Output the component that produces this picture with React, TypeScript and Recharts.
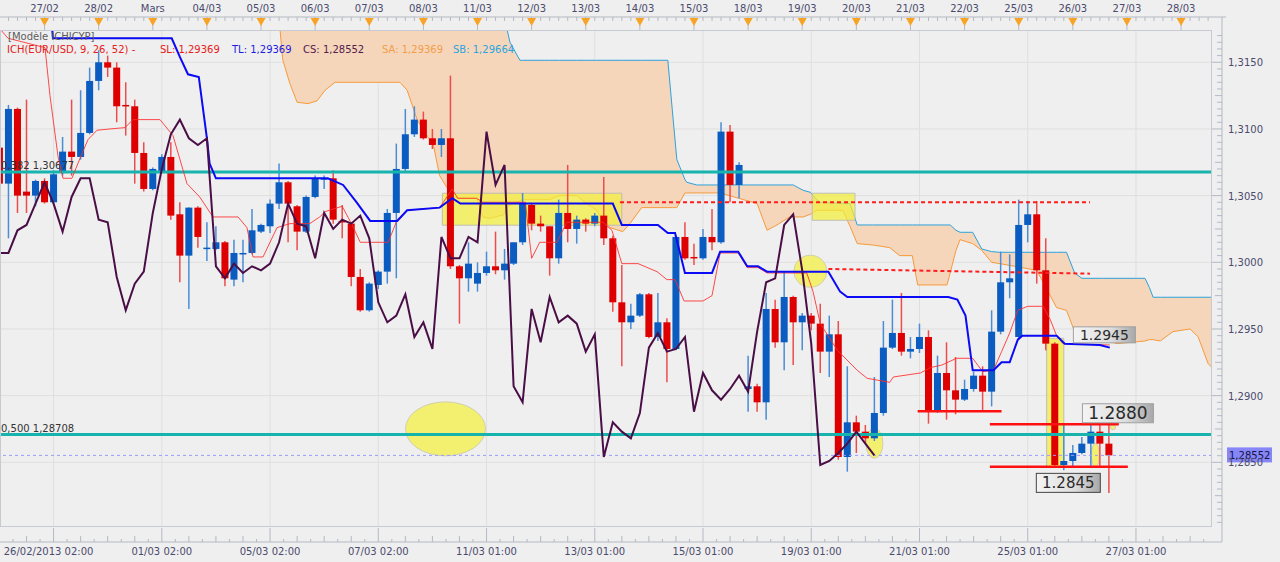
import React from 'react';
import {
  ComposedChart, XAxis, YAxis, Bar, Line, Area,
  ReferenceLine, ReferenceArea, ReferenceDot
} from 'recharts';

const FONT = '"DejaVu Sans", Verdana, sans-serif';
const AXIS_TEXT = '#4b4b6e';
const AXIS_LINE = '#b4b9c4';

// 4h candles, index k starts at -1 (first candle half cut at the left edge)
const FIRST_K = -1;
const opens = [
  1.3086, 1.3059, 1.3115, 1.3053, 1.3050, 1.3061, 1.3045, 1.3068, 1.3083, 1.3079,
  1.3097, 1.3136, 1.3150, 1.3146, 1.3118, 1.3117, 1.3082, 1.3055, 1.3068, 1.3079,
  1.3036, 1.3005, 1.3041, 1.3010, 1.3010, 1.3015, 1.2987, 1.3006, 1.3007, 1.3023,
  1.3027, 1.3044, 1.3060, 1.3042, 1.3023, 1.3049, 1.3062, 1.3063, 1.3031, 1.3029,
  1.2989, 1.2964, 1.2983, 1.2993, 1.3037, 1.3070, 1.3096, 1.3107, 1.3093, 1.3088,
  1.3093, 1.2997, 1.2988, 1.2984, 1.2992, 1.2997, 1.2994, 1.2999, 1.3015, 1.3043,
  1.3029, 1.3027, 1.3003, 1.3037, 1.3025, 1.3032, 1.3029, 1.3035, 1.3018, 1.2970,
  1.2955, 1.2960, 1.2976, 1.2944, 1.2955, 1.2935, 1.3019, 1.3004, 1.3003, 1.3019,
  1.3015, 1.3098, 1.3058, 1.2905, 1.2907, 1.2895, 1.2965, 1.2940, 1.2974, 1.2955,
  1.2960, 1.2954, 1.2933, 1.2946, 1.2854, 1.2880, 1.2873, 1.2868, 1.2887, 1.2936,
  1.2947, 1.2933, 1.2935, 1.2944, 1.2888, 1.2917, 1.2904, 1.2897, 1.2905, 1.2915,
  1.2903, 1.2948, 1.2985, 1.2944, 1.3028, 1.3036, 1.2994, 1.2939, 1.2848, 1.2851,
  1.2857, 1.2864, 1.2873, 1.2864,
];
const highs = [
  1.3090, 1.3118, 1.3116, 1.3122, 1.3062, 1.3063, 1.3069, 1.3094, 1.3122, 1.3129,
  1.3146, 1.3159, 1.3155, 1.3150, 1.3135, 1.3122, 1.3090, 1.3071, 1.3081, 1.3090,
  1.3045, 1.3041, 1.3042, 1.3030, 1.3027, 1.3016, 1.3017, 1.3017, 1.3040, 1.3029,
  1.3047, 1.3074, 1.3061, 1.3043, 1.3050, 1.3065, 1.3065, 1.3069, 1.3043, 1.3030,
  1.2995, 1.2985, 1.2994, 1.3040, 1.3089, 1.3115, 1.3117, 1.3113, 1.3100, 1.3100,
  1.3140, 1.2998, 1.3015, 1.3000, 1.3008, 1.3023, 1.3010, 1.3015, 1.3052, 1.3044,
  1.3035, 1.3027, 1.3047, 1.3073, 1.3035, 1.3033, 1.3037, 1.3064, 1.3020, 1.2998,
  1.2969, 1.2977, 1.2977, 1.2977, 1.2958, 1.3020, 1.3030, 1.3014, 1.3025, 1.3040,
  1.3105, 1.3103, 1.3075, 1.2930, 1.2909, 1.2977, 1.2972, 1.2993, 1.2975, 1.2962,
  1.2962, 1.2969, 1.2960, 1.2956, 1.2922, 1.2885, 1.2878, 1.2914, 1.2956, 1.2972,
  1.2977, 1.2944, 1.2954, 1.2949, 1.2930, 1.2940, 1.2929, 1.2912, 1.2918, 1.2922,
  1.2964, 1.3008, 1.3006, 1.3047, 1.3046, 1.3046, 1.3018, 1.2940, 1.2878, 1.2863,
  1.2869, 1.2878, 1.2878, 1.2878,
];
const lows = [
  1.3055, 1.3018, 1.3037, 1.3037, 1.3042, 1.3044, 1.3044, 1.3065, 1.3065, 1.3077,
  1.3096, 1.3129, 1.3139, 1.3105, 1.3095, 1.3059, 1.3053, 1.3054, 1.3067, 1.3032,
  1.2985, 1.2965, 1.3011, 1.3001, 1.3009, 1.2982, 1.2982, 1.2985, 1.3006, 1.3022,
  1.3022, 1.3040, 1.3015, 1.3009, 1.3022, 1.3048, 1.3055, 1.3029, 1.3018, 1.2982,
  1.2963, 1.2963, 1.2980, 1.2984, 1.2988, 1.3068, 1.3094, 1.3092, 1.3085, 1.3079,
  1.2995, 1.2954, 1.2978, 1.2978, 1.2990, 1.2991, 1.2987, 1.2998, 1.3013, 1.3024,
  1.3023, 1.2990, 1.2999, 1.3015, 1.3014, 1.3023, 1.3027, 1.3013, 1.2963, 1.2922,
  1.2950, 1.2959, 1.2943, 1.2941, 1.2910, 1.2934, 1.3002, 1.2998, 1.3002, 1.3009,
  1.3014, 1.3045, 1.3048, 1.2888, 1.2888, 1.2882, 1.2936, 1.2919, 1.2923, 1.2934,
  1.2949, 1.2917, 1.2914, 1.2852, 1.2843, 1.2857, 1.2864, 1.2866, 1.2885, 1.2935,
  1.2930, 1.2928, 1.2932, 1.2879, 1.2887, 1.2882, 1.2886, 1.2896, 1.2903, 1.2889,
  1.2892, 1.2946, 1.2973, 1.2942, 1.3015, 1.2984, 1.2934, 1.2846, 1.2844, 1.2846,
  1.2856, 1.2846, 1.2846, 1.2827,
];
const closes = [
  1.3059, 1.3115, 1.3050, 1.3050, 1.3061, 1.3045, 1.3066, 1.3083, 1.3079, 1.3097,
  1.3136, 1.3150, 1.3146, 1.3117, 1.3117, 1.3082, 1.3055, 1.3070, 1.3079, 1.3035,
  1.3005, 1.3041, 1.3019, 1.3011, 1.3015, 1.2988, 1.3007, 1.3007, 1.3024, 1.3028,
  1.3044, 1.3060, 1.3044, 1.3023, 1.3049, 1.3063, 1.3063, 1.3032, 1.3030, 1.2989,
  1.2964, 1.2984, 1.2993, 1.3037, 1.3070, 1.3096, 1.3107, 1.3093, 1.3088, 1.3093,
  1.2997, 1.2988, 1.2999, 1.2992, 1.2997, 1.2994, 1.2999, 1.3015, 1.3044, 1.3029,
  1.3027, 1.3003, 1.3037, 1.3025, 1.3032, 1.3029, 1.3035, 1.3018, 1.2970, 1.2955,
  1.2960, 1.2976, 1.2944, 1.2955, 1.2935, 1.3019, 1.3003, 1.3003, 1.3019, 1.3015,
  1.3098, 1.3058, 1.3073, 1.2907, 1.2895, 1.2965, 1.2940, 1.2974, 1.2955, 1.2960,
  1.2954, 1.2933, 1.2946, 1.2854, 1.2880, 1.2873, 1.2868, 1.2887, 1.2936, 1.2947,
  1.2933, 1.2935, 1.2944, 1.2888, 1.2917, 1.2904, 1.2897, 1.2905, 1.2915, 1.2903,
  1.2948, 1.2985, 1.2988, 1.3028, 1.3036, 1.2994, 1.2939, 1.2848, 1.2851, 1.2857,
  1.2864, 1.2873, 1.2864, 1.28552,
];

const topDayLabels = [
  '27/02', '28/02', 'Mars', '04/03', '05/03', '06/03', '07/03', '08/03', '11/03', '12/03', '13/03',
  '14/03', '15/03', '18/03', '19/03', '20/03', '21/03', '22/03', '25/03', '26/03', '27/03', '28/03',
];
const bottomTimeLabels = [
  '26/02/2013 02:00', '01/03 02:00', '05/03 02:00', '07/03 02:00', '11/03 01:00', '13/03 01:00',
  '15/03 01:00', '19/03 01:00', '21/03 01:00', '25/03 01:00', '27/03 01:00',
];
const priceLevels = [1.285, 1.29, 1.295, 1.3, 1.305, 1.31, 1.315];

// Tenkan-sen (red) and Kijun-sen (blue) vertices [k, price]
const tenkanPts: [number, number][] = [
  [-0.94, 1.3175], [-0.05, 1.3168], [4.05, 1.3161], [4.6, 1.3125], [5.5, 1.3079], [6.04, 1.3063],
  [7.04, 1.3063], [7.93, 1.3078], [8.82, 1.3092], [9.81, 1.3099], [11.25, 1.31], [12.92, 1.3101],
  [13.8, 1.3107], [16.8, 1.3107], [18.24, 1.3095], [19.79, 1.3059], [21.2, 1.3049], [22.67, 1.3034],
  [25.45, 1.3034], [26.44, 1.3026], [27.11, 1.3004], [28.22, 1.3004], [29.77, 1.3026], [31.2, 1.3029],
  [33.4, 1.3029], [34.5, 1.3034], [35.1, 1.3038], [37.0, 1.3042], [38.1, 1.3028], [39.0, 1.3015],
  [42.1, 1.3015], [43.1, 1.3032], [44.2, 1.3039], [47.8, 1.3041], [49.2, 1.3055], [49.8, 1.3048],
  [51.9, 1.3048], [52.6, 1.3045], [57.3, 1.3045], [58.0, 1.3003], [58.9, 1.3015], [60.8, 1.3015],
  [61.9, 1.303], [65.9, 1.303], [66.9, 1.3024], [68.0, 1.2999], [69.8, 1.2999], [71.9, 1.2993],
  [73.0, 1.2987], [73.9, 1.2987], [74.9, 1.2971], [77.0, 1.2971], [78.0, 1.2975], [78.9, 1.3007],
  [80.9, 1.3007], [81.9, 1.2996], [83.1, 1.2996], [84.1, 1.2992], [88.5, 1.2992], [89.2, 1.2978],
  [90.0, 1.2954], [91.9, 1.2934], [94.1, 1.2919], [95.2, 1.2913], [97.7, 1.291], [98.1, 1.2914],
  [101.1, 1.2917], [102.2, 1.2921], [103.5, 1.2923], [105.1, 1.2928], [106.9, 1.2928], [108.0, 1.2918],
  [109.2, 1.2919], [110.1, 1.2933], [111.0, 1.2947], [111.9, 1.2964], [113.0, 1.2967], [114.7, 1.2967],
  [115.5, 1.2957], [116.2, 1.2945], [116.9, 1.2939], [122.1, 1.2938],
];
const kijunPts: [number, number][] = [
  [4.6, 1.3195], [4.93, 1.3168], [18.1, 1.3168], [19.0, 1.3154], [19.9, 1.3141], [21.1, 1.3139],
  [22.0, 1.3093], [22.3, 1.3074], [23.0, 1.3063], [35.4, 1.3063], [37.1, 1.3058], [38.6, 1.3045],
  [40.1, 1.3031], [43.1, 1.3031], [44.2, 1.3039], [47.8, 1.3041], [49.2, 1.3048], [50.1, 1.3044],
  [67.0, 1.3044], [68.0, 1.3028], [72.0, 1.3028], [73.1, 1.3022], [73.9, 1.3022], [75.0, 1.2992],
  [78.0, 1.2992], [78.9, 1.3008], [80.9, 1.3008], [81.9, 1.2997], [83.1, 1.2997], [84.1, 1.2993],
  [90.9, 1.2993], [92.2, 1.2978], [93.0, 1.2974], [104.2, 1.2974], [105.2, 1.2972], [106.1, 1.296],
  [106.9, 1.2919], [109.2, 1.2919], [110.1, 1.2925], [111.0, 1.2925], [111.9, 1.2942], [112.4, 1.2945],
  [116.2, 1.2945], [117.1, 1.2939], [121.0, 1.2938], [122.1, 1.2936],
];
// Kumo: [k, senkou A, senkou B]
const cloudPts: [number, number, number][] = [
  [30.0, 1.3185, 1.32], [30.1, 1.3175, 1.32], [30.4, 1.3152, 1.32], [31.2, 1.3134, 1.32],
  [32.0, 1.312, 1.32], [33.2, 1.3119, 1.32], [34.2, 1.3121, 1.32], [35.1, 1.3129, 1.32],
  [36.2, 1.3135, 1.32], [43.4, 1.3135, 1.32], [44.2, 1.3129, 1.32], [45.3, 1.3107, 1.32],
  [46.2, 1.3097, 1.32], [47.1, 1.3088, 1.32], [47.8, 1.3065, 1.32], [48.6, 1.3056, 1.32],
  [49.3, 1.3049, 1.32], [49.8, 1.3048, 1.32], [51.9, 1.3048, 1.32], [52.6, 1.3034, 1.32],
  [53.4, 1.3033, 1.32], [54.5, 1.3035, 1.3195], [54.8, 1.3035, 1.3188], [55.3, 1.3041, 1.3174],
  [55.6, 1.3043, 1.3165], [56.7, 1.3046, 1.31515], [57.0, 1.3047, 1.31515], [60.0, 1.3047, 1.31515],
  [61.1, 1.305, 1.31515], [63.0, 1.305, 1.31515], [64.1, 1.3044, 1.31515], [65.2, 1.3039, 1.31515],
  [65.9, 1.3032, 1.31515], [66.7, 1.3026, 1.31515], [68.1, 1.3023, 1.31515], [68.9, 1.3029, 1.31515],
  [70.2, 1.3041, 1.31515], [73.1, 1.3041, 1.31515], [73.6, 1.3041, 1.3114], [74.1, 1.3041, 1.3077],
  [75.0, 1.3052, 1.3062], [75.2, 1.3052, 1.306], [76.3, 1.3052, 1.3058], [78.9, 1.3052, 1.3058],
  [83.0, 1.3044, 1.3058], [84.1, 1.3024, 1.3058], [85.2, 1.3028, 1.3058], [86.6, 1.3034, 1.3058],
  [87.0, 1.3034, 1.3058], [88.1, 1.3034, 1.3054], [88.9, 1.3036, 1.30525], [89.6, 1.3039, 1.3047],
  [90.0, 1.3039, 1.3045], [92.5, 1.3039, 1.3044], [93.3, 1.3027, 1.3044], [94.1, 1.3014, 1.3028],
  [95.8, 1.3013, 1.3028], [97.7, 1.3011, 1.3028], [98.8, 1.3005, 1.3028], [100.2, 1.3005, 1.3028],
  [100.8, 1.2983, 1.3028], [104.05, 1.2983, 1.3028], [104.4, 1.2992, 1.3028], [105.05, 1.3009, 1.3024],
  [105.5, 1.3017, 1.30225], [106.9, 1.3014, 1.30225], [107.9, 1.3009, 1.301], [109.0, 1.3, 1.3008],
  [109.9, 1.2999, 1.30075], [114.0, 1.2994, 1.30075], [116.2, 1.2966, 1.30075], [117.3, 1.2964, 1.30075],
  [118.2, 1.2948, 1.2992], [119.0, 1.2946, 1.2988], [121.3, 1.2942, 1.2988], [122.9, 1.2939, 1.2988],
  [126.0, 1.2941, 1.2988], [126.5, 1.2942, 1.2981], [126.9, 1.2942, 1.29738], [127.7, 1.2941, 1.29738],
  [129.1, 1.2948, 1.29738], [131.0, 1.295, 1.29738], [131.9, 1.2944, 1.29738], [133.0, 1.2924, 1.29738],
  [133.43, 1.2921, 1.29738],
];

const fibLevels: [number, string][] = [[1.30677, '0,382 1,30677'], [1.28708, '0,500 1,28708']];
const lastClose = 1.28552;
// drawn studies: [kFrom, kTo, priceFrom, priceTo]
const dottedLevels: [number, number, number, number][] = [[67.8, 119.9, 1.3045, 1.3045], [90.9, 119.9, 1.2995, 1.29915]];
const solidLevels: [number, number, number][] = [[100.8, 110.1, 1.28883], [108.8, 123.1, 1.28785], [108.8, 124.1, 1.28466]];
const yellowBoxes: [number, number, number, number][] = [
  [48.1, 68.0, 1.30278, 1.30518], [89.1, 93.85, 1.30315, 1.30518], [115.1, 117.0, 1.28463, 1.2943],
];
const yellowSpots: [number, number][] = [[48.45, 1.28751], [88.9, 1.29933], [96.0, 1.28643], [120.5, 1.28553], [122.45, 1.28763]];
const priceTags: [number, number, string][] = [[121.5, 1.29456, '1.2945'], [123.0, 1.28868, '1.2880'], [117.5, 1.28346, '1.2845']];

const X_MIN = -0.94;
const X_MAX = 133.43;
const Y_MIN = 1.28015;
const Y_MAX = 1.31742;
const BODY_W = 7;

const candles = opens.map((o, i) => ({ k: i + FIRST_K, o, h: highs[i], l: lows[i], c: closes[i] }));
const chikou = candles.map((d) => ({ k: d.k - 26, v: d.c })).filter((d) => d.k >= -2);
const tenkan = tenkanPts.map(([k, v]) => ({ k, v }));
const kijun = kijunPts.map(([k, v]) => ({ k, v }));
const cloud = cloudPts.map(([k, sa, sb]) => ({ k, sa, sb }));

const topTicks = Array.from({ length: 134 }, (_, i) => i);
const bottomTicks = Array.from({ length: 89 }, (_, j) => 0.5 + 1.5 * j);
const priceTicks = Array.from({ length: 74 }, (_, j) => Math.round((1.2805 + 0.0005 * j) * 10000) / 10000);

const spotSizes = [[40, 27], [16.5, 16], [8.5, 15], [4, 12], [2.5, 2.5]];
const tagSizes = [
  { w: 62, h: 16, fs: 14, stroke: '#a0a0a0' },
  { w: 71, h: 19, fs: 17, stroke: '#a0a0a0' },
  { w: 64, h: 19, fs: 15, stroke: '#444' },
];

function Candle(props: any) {
  const { x, y, width, height, payload } = props;
  if (!payload || height == null) return null;
  const { o, h, l, c } = payload;
  const up = c >= o;
  const span = h - l || 1e-9;
  const py = (v: number) => y + ((h - v) / span) * height;
  const top = py(Math.max(o, c));
  const bot = py(Math.min(o, c));
  const cx = x + (width || 0) / 2;
  return (
    <g>
      <line x1={cx} x2={cx} y1={y} y2={y + height} stroke={up ? '#4a8cd6' : '#ee4c4c'} strokeWidth={1.5} />
      <rect x={cx - BODY_W / 2} y={top} width={BODY_W} height={Math.max(bot - top, 1.5)} fill={up ? '#0b5cc0' : '#de0000'} />
    </g>
  );
}

function TopTick({ x, y, payload }: any) {
  const k = payload.value;
  const base = y - 13;
  const idx = (k - 4) / 6;
  if (!(Number.isInteger(idx) && idx >= 0 && idx < topDayLabels.length)) {
    return <line x1={x} x2={x} y1={base} y2={base + 4} stroke={AXIS_LINE} />;
  }
  return (
    <g>
      <line x1={x} x2={x} y1={base} y2={y} stroke={AXIS_LINE} />
      <path d={`M${x - 4.5},${base + 1} L${x + 4.5},${base + 1} L${x},${base + 9} Z`} fill="#f7a325" />
      <text x={x} y={base - 5} textAnchor="middle" fontSize={10} fontFamily={FONT} fill={AXIS_TEXT}>
        {topDayLabels[idx]}
      </text>
    </g>
  );
}

function BottomTick({ x, y, payload }: any) {
  const k = payload.value;
  const base = y + 15;
  const idx = (k - 5) / 12;
  if (!(Number.isInteger(idx) && idx >= 0 && idx < bottomTimeLabels.length)) {
    return <line x1={x} x2={x} y1={Number.isInteger(k) ? base - 6 : base - 3} y2={base} stroke={AXIS_LINE} />;
  }
  return (
    <g>
      <line x1={x} x2={x} y1={y + 1} y2={base} stroke={AXIS_LINE} />
      <text x={idx === 0 ? x - 5 : x} y={y + 28} textAnchor="middle" fontSize={10} fontFamily={FONT} fill={AXIS_TEXT}>
        {bottomTimeLabels[idx]}
      </text>
    </g>
  );
}

function RightTick({ x, y, payload }: any) {
  const v = payload.value;
  const steps = Math.round(v / 0.0005);
  const major = steps % 10 === 0;
  const mid = steps % 5 === 0;
  return (
    <g>
      <line x1={major ? x : mid ? x + 3 : x + 5} x2={x + 10} y1={y} y2={y} stroke={AXIS_LINE} />
      {major && (
        <text x={x + 16} y={y + 4} fontSize={10} fontFamily={FONT} fill={AXIS_TEXT}>
          {v.toFixed(4).replace('.', ',')}
        </text>
      )}
    </g>
  );
}

function Frame({ x, y, width, height }: any) {
  return (
    <g fill="none" stroke={AXIS_LINE}>
      <rect x={x + 0.5} y={y + 0.5} width={width - 1} height={height - 1} stroke="#c6cbd3" />
      <line x1={x} x2={x + width + 14} y1={y - 13} y2={y - 13} />
      <line x1={x + width + 10} x2={x + width + 10} y1={y - 13} y2={y + height + 15} />
      <line x1={x} x2={x + width + 10} y1={y + height + 15} y2={y + height + 15} />
    </g>
  );
}

export default function App() {
  return (
    <div style={{ position: 'fixed', left: 0, top: 0, width: 1280, height: 562, background: '#efefef', overflow: 'hidden' }}>
      <ComposedChart width={1280} height={562} data={candles} margin={{ top: 0, right: 8, bottom: 0, left: 0 }}>
        <defs>
          <linearGradient id="tagGrad" x1="0" y1="0" x2="1" y2="0">
            <stop offset="0%" stopColor="#f4f4f4" />
            <stop offset="60%" stopColor="#dedede" />
            <stop offset="100%" stopColor="#a8a8a8" />
          </linearGradient>
        </defs>
        <XAxis xAxisId="top" orientation="top" type="number" dataKey="k" domain={[X_MIN, X_MAX]} allowDataOverflow
          ticks={topTicks} interval={0} height={30} tickSize={0} tickMargin={0} axisLine={false} tickLine={false} tick={TopTick} />
        <XAxis type="number" dataKey="k" domain={[X_MIN, X_MAX]} allowDataOverflow
          ticks={bottomTicks} interval={0} height={35} tickSize={0} tickMargin={0} axisLine={false} tickLine={false} tick={BottomTick} />
        <YAxis orientation="right" type="number" domain={[Y_MIN, Y_MAX]} allowDataOverflow
          ticks={priceTicks} interval={0} width={60} tickSize={0} tickMargin={0} axisLine={false} tickLine={false} tick={RightTick} />

        {priceLevels.map((p) => (
          <ReferenceLine key={'gh' + p} y={p} stroke="#dfdfdf" zIndex={-60} />
        ))}
        {bottomTimeLabels.map((_, i) => (
          <ReferenceLine key={'gv' + i} x={5 + 12 * i} stroke="#dfdfdf" zIndex={-60} />
        ))}

        <Area data={cloud} dataKey={(d: any) => [d.sa, d.sb]} type="linear" stroke="none" fill="#f5d6bb" fillOpacity={1}
          isAnimationActive={false} zIndex={10} />
        <Line data={cloud} dataKey="sb" type="linear" stroke="#2ba2dc" strokeWidth={1} dot={false} activeDot={false}
          isAnimationActive={false} zIndex={20} />
        <Line data={cloud} dataKey="sa" type="linear" stroke="#f69a3c" strokeWidth={1} dot={false} activeDot={false}
          isAnimationActive={false} zIndex={20} />

        {yellowBoxes.map(([a, b, p1, p2], i) => (
          <ReferenceArea key={'yb' + i} x1={a} x2={b} y1={p1} y2={p2} fill="#f3ee3a" fillOpacity={0.72}
            stroke="#b9b9b9" strokeOpacity={0.9} zIndex={30} />
        ))}
        {yellowSpots.map(([k, p], i) => (
          <ReferenceDot key={'ys' + i} x={k} y={p} r={2} zIndex={35}
            shape={(s: any) => (
              <ellipse cx={s.cx} cy={s.cy} rx={spotSizes[i][0]} ry={spotSizes[i][1]} fill="#f4f064" fillOpacity={0.92}
                stroke="#cfcfb0" strokeWidth={1} />
            )} />
        ))}

        <Bar dataKey={(d: any) => [d.l, d.h]} barSize={7} shape={Candle} isAnimationActive={false} zIndex={50} />

        {fibLevels.map(([p, text]) => (
          <ReferenceLine key={'fib' + p} y={p} stroke="#17b3ad" strokeWidth={3} zIndex={55}
            label={(lp: any) => (lp.viewBox ? (
              <text x={lp.viewBox.x + 1} y={lp.viewBox.y - 3} fontSize={10} fontFamily={FONT} fill="#333">{text}</text>
            ) : null)} />
        ))}
        <ReferenceLine y={lastClose} stroke="#9b9bff" strokeDasharray="3 3" zIndex={55}
          label={(lp: any) => (lp.viewBox ? (
            <g>
              <rect x={lp.viewBox.x + lp.viewBox.width + 15} y={lp.viewBox.y - 8} width={45} height={15} fill="#8686f8" />
              <text x={lp.viewBox.x + lp.viewBox.width + 17} y={lp.viewBox.y + 4} fontSize={10} fontFamily={FONT} fill="#14143c">1,28552</text>
            </g>
          ) : null)} />

        <Line data={tenkan} dataKey="v" type="linear" stroke="#ff2b2b" strokeOpacity={0.85} strokeWidth={1} dot={false}
          activeDot={false} isAnimationActive={false} zIndex={60} />
        <Line data={kijun} dataKey="v" type="linear" stroke="#0a0af5" strokeWidth={2} dot={false}
          activeDot={false} isAnimationActive={false} zIndex={70} />
        <Line data={chikou} dataKey="v" type="linear" stroke="#4a0e46" strokeWidth={2} dot={false}
          activeDot={false} isAnimationActive={false} zIndex={80} />

        {dottedLevels.map(([a, b, p1, p2], i) => (
          <ReferenceLine key={'dl' + i} segment={[{ x: a, y: p1 }, { x: b, y: p2 }]} stroke="#ff1c1c" strokeWidth={2}
            strokeDasharray="4 3" zIndex={90} />
        ))}
        {solidLevels.map(([a, b, p], i) => (
          <ReferenceLine key={'sl' + i} segment={[{ x: a, y: p }, { x: b, y: p }]} stroke="#ff1010" strokeWidth={2.5} zIndex={90} />
        ))}
        {priceTags.map(([k, p, text], i) => (
          <ReferenceDot key={'pt' + i} x={k} y={p} r={2} zIndex={100} ifOverflow="visible"
            shape={(s: any) => (
              <g>
                <rect x={s.cx - tagSizes[i].w / 2} y={s.cy - tagSizes[i].h / 2} width={tagSizes[i].w} height={tagSizes[i].h}
                  fill="url(#tagGrad)" stroke={tagSizes[i].stroke} />
                <text x={s.cx} y={s.cy + tagSizes[i].fs * 0.36} textAnchor="middle" fontSize={tagSizes[i].fs}
                  fontFamily={FONT} fill="#2a2a2a">{text}</text>
              </g>
            )} />
        ))}
        <ReferenceArea x1={X_MIN} x2={X_MAX} y1={Y_MIN} y2={Y_MAX} ifOverflow="visible" zIndex={95}
          shape={(s: any) => <Frame {...s} />} />
      </ComposedChart>
      <div style={{ position: 'absolute', left: 0, top: 0, width: 1280, height: 562, pointerEvents: 'none', fontFamily: FONT, fontSize: 10, lineHeight: '12px' }}>
        <span style={{ position: 'absolute', left: 8, top: 31, color: '#5c5c5c' }}>[Modèle ICHICYP]</span>
        <span style={{ position: 'absolute', left: 7, top: 44, color: '#e62020' }}>ICH(EUR/USD, 9, 26, 52) -</span>
        <span style={{ position: 'absolute', left: 160, top: 44, color: '#e62020' }}>SL: 1,29369</span>
        <span style={{ position: 'absolute', left: 232, top: 44, color: '#1c1ce0' }}>TL: 1,29369</span>
        <span style={{ position: 'absolute', left: 303, top: 44, color: '#52204c' }}>CS: 1,28552</span>
        <span style={{ position: 'absolute', left: 382, top: 44, color: '#f49d48' }}>SA: 1,29369</span>
        <span style={{ position: 'absolute', left: 453, top: 44, color: '#2ca4de' }}>SB: 1,29664</span>
      </div>
    </div>
  );
}
